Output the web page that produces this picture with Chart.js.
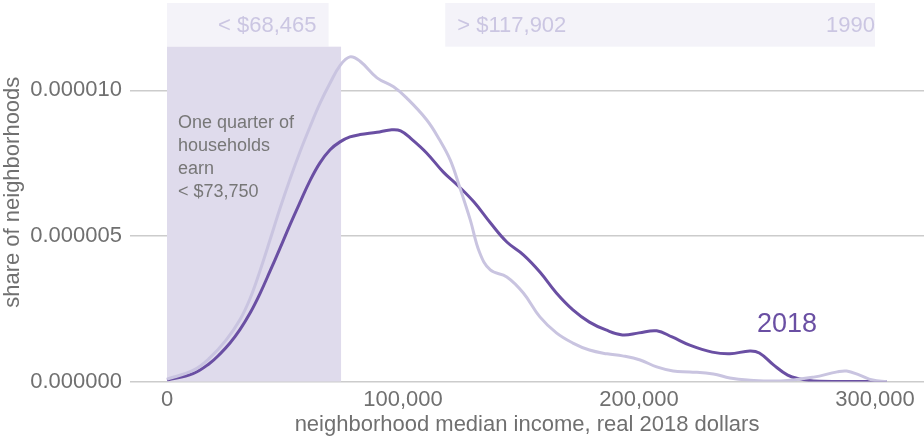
<!DOCTYPE html>
<html>
<head>
<meta charset="utf-8">
<script src="https://cdn.jsdelivr.net/npm/chart.js@4.4.1/dist/chart.umd.min.js"></script>
<style>
  html, body { margin: 0; padding: 0; background: #fff; }
  #wrap { width: 924px; height: 436px; position: relative; }
</style>
</head>
<body>
<div id="wrap"><canvas id="myChart"></canvas></div>
<script>
// neighborhood median income, real 2018 dollars / share of neighborhoods (in millionths)
const income1990 = [0, 11000, 18000, 25000, 30900, 35200, 39400, 43600, 47900, 52100,
  56400, 60600, 64800, 69100, 73300, 77500, 81800, 89000, 96000, 101500,
  110000, 115500, 120000, 124000, 128500, 132500, 137000, 144000, 151000, 158000,
  165000, 172000, 179000, 186500, 193000, 200500, 207500, 214500, 221500, 231500,
  238500, 246000, 260000, 274000, 284000, 288000, 293500, 299000, 305000];
const share1990 = [0.08, 0.38, 0.80, 1.42, 2.12, 2.85, 3.80, 4.85, 5.95, 6.95,
  7.90, 8.75, 9.55, 10.25, 10.85, 11.15, 11.00, 10.43, 10.12, 9.74,
  8.99, 8.30, 7.61, 6.68, 5.55, 4.42, 3.83, 3.59, 3.04, 2.22,
  1.67, 1.32, 1.08, 0.95, 0.88, 0.74, 0.50, 0.36, 0.33, 0.26,
  0.12, 0.05, 0.02, 0.15, 0.33, 0.36, 0.22, 0.05, 0.0];

const income2018 = [0, 11000, 18000, 22500, 26700, 30900, 35200, 39400, 43600, 47900,
  52100, 56400, 60600, 64800, 69100, 73300, 77500, 81800, 89000, 94500,
  99000, 104000, 110000, 117000, 123000, 130000, 137000, 144000, 151000, 158000,
  165000, 172000, 179000, 186000, 193000, 200000, 207500, 214000, 221500, 231000,
  238500, 247000, 251000, 257000, 263000, 268000, 274000, 289000, 305000];
const share2018 = [0.05, 0.27, 0.62, 0.95, 1.32, 1.78, 2.35, 3.02, 3.78, 4.58,
  5.38, 6.16, 6.90, 7.51, 7.96, 8.23, 8.40, 8.48, 8.56, 8.64,
  8.61, 8.30, 7.85, 7.20, 6.75, 6.17, 5.45, 4.79, 4.35, 3.76,
  3.04, 2.46, 2.04, 1.77, 1.60, 1.67, 1.74, 1.53, 1.25, 1.01,
  0.95, 1.05, 0.98, 0.57, 0.22, 0.09, 0.02, 0.0, 0.0];

const xTicks = [0, 100000, 200000, 300000];
const yTicks = [0, 0.000005, 0.00001];

// 1990 quartile boxes and the 2018 lower quarter
const low1990 = 68465;
const high1990 = 117902;
const boxEnd = 300000;
const quarter2018 = 73750;
const noteLines = ['One quarter of', 'households', 'earn', '< $73,750'];

const FONT = '"Liberation Sans", Arial, Helvetica, sans-serif';
const DARK = '#6a4fa3';
const LIGHT = '#c9c4e0';
const GREY = '#707070';

const toPoints = (xs, ys) => xs.map((v, i) => ({x: v, y: ys[i] * 1e-6}));

const bands = {
  id: 'bands',
  beforeDatasetsDraw(chart) {
    const {ctx, scales: {x, y}} = chart;
    const top = y.getPixelForValue(y.max);
    const boxBottom = y.getPixelForValue(0.0000115);
    const base = y.getPixelForValue(0);
    const x0 = x.getPixelForValue(0);
    const xLow = x.getPixelForValue(low1990);
    const xHigh = x.getPixelForValue(high1990);
    const xEnd = x.getPixelForValue(boxEnd);
    const xQ = x.getPixelForValue(quarter2018);
    ctx.save();
    ctx.fillStyle = '#f4f3f9';
    ctx.fillRect(x0, top, xLow - x0, boxBottom - top);
    ctx.fillRect(xHigh, top, xEnd - xHigh, boxBottom - top);
    ctx.fillStyle = '#dfdbec';
    ctx.fillRect(x0, boxBottom, xQ - x0, base - boxBottom);

    const midY = (top + boxBottom) / 2 + 1;
    ctx.font = '22px ' + FONT;
    ctx.fillStyle = '#cbc6e2';
    ctx.textBaseline = 'middle';
    ctx.textAlign = 'right';
    ctx.fillText('< $68,465', xLow - 12, midY);
    ctx.fillText('1990', xEnd, midY);
    ctx.textAlign = 'left';
    ctx.fillText('> $117,902', xHigh + 12, midY);

    ctx.font = '18px ' + FONT;
    ctx.fillStyle = '#777777';
    ctx.textBaseline = 'alphabetic';
    const firstLine = y.getPixelForValue(0.00001) + 38;
    noteLines.forEach((t, i) => ctx.fillText(t, x0 + 11, firstLine + i * 23));
    ctx.restore();
  },
  afterDatasetsDraw(chart) {
    const {ctx, scales: {x, y}} = chart;
    ctx.save();
    ctx.font = '27px ' + FONT;
    ctx.fillStyle = DARK;
    ctx.textAlign = 'center';
    ctx.textBaseline = 'middle';
    ctx.fillText('2018', x.getPixelForValue(262700), y.getPixelForValue(0.00000196));
    ctx.restore();
  }
};

new Chart(document.getElementById('myChart'), {
  type: 'line',
  data: {
    datasets: [
      {
        label: '1990',
        data: toPoints(income1990, share1990),
        borderColor: LIGHT,
        borderWidth: 3,
        pointRadius: 0,
        tension: 0.4,
        fill: false
      },
      {
        label: '2018',
        data: toPoints(income2018, share2018),
        borderColor: DARK,
        borderWidth: 3,
        pointRadius: 0,
        tension: 0.4,
        fill: false
      }
    ]
  },
  options: {
    responsive: true,
    maintainAspectRatio: false,
    animation: false,
    layout: {padding: {top: 3, right: 0, bottom: 0, left: 0}},
    plugins: {legend: {display: false}, tooltip: {enabled: false}},
    scales: {
      x: {
        type: 'linear',
        min: -15680,
        max: 320763,
        afterFit: s => { s.height = 54.5; },
        afterBuildTicks: s => { s.ticks = xTicks.map(v => ({value: v})); },
        grid: {display: false, drawTicks: false},
        border: {display: false},
        ticks: {
          padding: 5,
          color: GREY,
          font: {family: FONT, size: 22},
          maxRotation: 0,
          callback: v => v.toLocaleString('en-US')
        },
        title: {
          display: true,
          text: 'neighborhood median income, real 2018 dollars',
          color: GREY,
          font: {family: FONT, size: 22, lineHeight: 1},
          padding: 0
        }
      },
      y: {
        min: 0,
        max: 0.000013,
        afterFit: s => { s.width = 130; s.paddingTop = 0; s.paddingBottom = 0; },
        afterBuildTicks: s => { s.ticks = yTicks.map(v => ({value: v})); },
        grid: {color: '#cccccc', lineWidth: 1.5, drawTicks: false},
        border: {display: false},
        ticks: {
          padding: 8,
          color: GREY,
          font: {family: FONT, size: 22},
          callback: v => v.toFixed(6)
        },
        title: {
          display: true,
          text: 'share of neighborhoods',
          color: GREY,
          font: {family: FONT, size: 22, lineHeight: 1},
          padding: {top: 2, bottom: 0}
        }
      }
    }
  },
  plugins: [bands]
});
</script>
</body>
</html>
